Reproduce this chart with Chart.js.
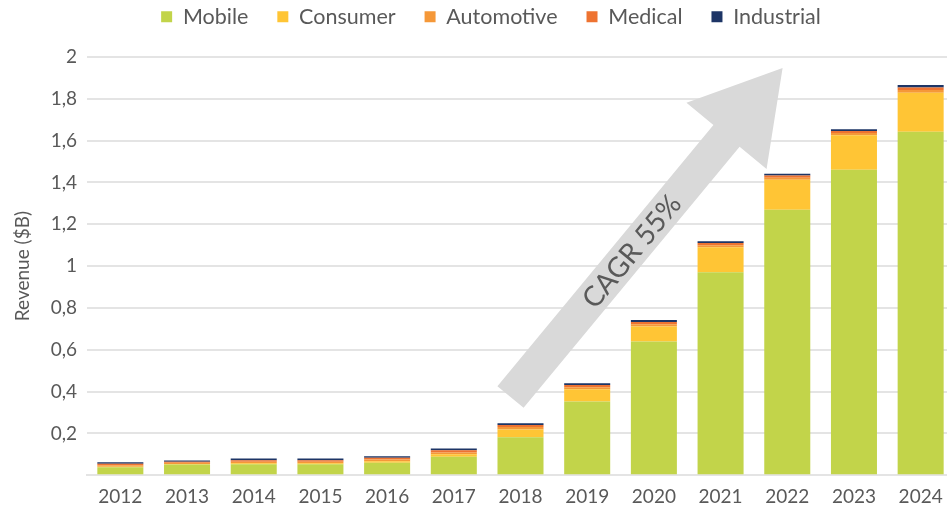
<!DOCTYPE html>
<html>
<head>
<meta charset="utf-8">
<title>Revenue by market</title>
<script src="https://cdn.jsdelivr.net/npm/chart.js@4/dist/chart.umd.min.js"></script>
<style>
    html, body { margin: 0; padding: 0; background: #ffffff; overflow: hidden; }
    /* a bit wider than the window: the last category runs off the right edge in the original */
    #wrap { width: 954px; height: 515px; }
</style>
</head>
<body>
<div id="wrap"><canvas id="revenueChart"></canvas></div>
<script>
// Chart data ($B)
const years = ['2012', '2013', '2014', '2015', '2016', '2017', '2018', '2019', '2020', '2021', '2022', '2023', '2024'];
const mobile = [0.038, 0.051, 0.052, 0.052, 0.059, 0.088, 0.182, 0.352, 0.639, 0.970, 1.270, 1.461, 1.642];
const consumer = [0.003, 0.003, 0.005, 0.005, 0.008, 0.012, 0.037, 0.059, 0.072, 0.120, 0.143, 0.165, 0.187];
const automotive = [0.007, 0.005, 0.007, 0.007, 0.008, 0.009, 0.011, 0.010, 0.011, 0.010, 0.010, 0.010, 0.013];
const medical = [0.007, 0.005, 0.008, 0.008, 0.008, 0.010, 0.010, 0.010, 0.011, 0.010, 0.010, 0.010, 0.012];
const industrial = [0.007, 0.006, 0.008, 0.008, 0.008, 0.009, 0.008, 0.009, 0.009, 0.009, 0.009, 0.009, 0.012];

// Growth arrow, given in axis units (category index, revenue)
const arrowFrom = { x: 5.85, y: 0.374 };
const arrowTo = { x: 9.93, y: 1.947 };
const arrowLabel = 'CAGR 55%';

const textColor = '#595959';
const fontFamily = 'Lato, "Open Sans", sans-serif';

// Draws the big grey CAGR arrow behind the bars
const cagrArrow = {
    id: 'cagrArrow',
    beforeDatasetsDraw(chart) {
        const ctx = chart.ctx;
        const xs = chart.scales.x;
        const ys = chart.scales.y;
        const x0 = xs.getPixelForValue(arrowFrom.x), y0 = ys.getPixelForValue(arrowFrom.y);
        const x1 = xs.getPixelForValue(arrowTo.x), y1 = ys.getPixelForValue(arrowTo.y);
        const len = Math.hypot(x1 - x0, y1 - y0);
        const angle = Math.atan2(y1 - y0, x1 - x0);
        const shaft = 17, head = 52, headLen = 88;

        ctx.save();
        ctx.translate(x0, y0);
        ctx.rotate(angle);
        ctx.fillStyle = '#d9d9d9';
        ctx.beginPath();
        ctx.moveTo(0, -shaft);
        ctx.lineTo(len - headLen, -shaft);
        ctx.lineTo(len - headLen, -head);
        ctx.lineTo(len, 0);
        ctx.lineTo(len - headLen, head);
        ctx.lineTo(len - headLen, shaft);
        ctx.lineTo(0, shaft);
        ctx.closePath();
        ctx.fill();

        ctx.fillStyle = textColor;
        ctx.font = '28px ' + fontFamily;
        ctx.textAlign = 'center';
        ctx.textBaseline = 'middle';
        ctx.fillText(arrowLabel, (len - headLen) / 2 + 20, 1);
        ctx.restore();
    }
};

// Legend sits higher and a little right of where Chart.js centres it
const legendPlacement = {
    id: 'legendPlacement',
    beforeUpdate(chart) {
        const legend = chart.legend;
        if (legend && !legend._fitPatched) {
            const fit = legend.fit;
            legend.fit = function () {
                fit.call(this);
                this.height = 57;
            };
            legend._fitPatched = true;
        }
    },
    afterLayout(chart) {
        const legend = chart.legend;
        if (!legend) return;
        legend.top = -23;
        legend.left += 14;
        legend.right += 14;
    }
};

function makeSet(label, data, color) {
    return {
        label: label,
        data: data,
        backgroundColor: color,
        borderWidth: 0,
        categoryPercentage: 1.0,
        barPercentage: 0.69
    };
}

function createRevenueChart() {
    const ctx = document.getElementById('revenueChart').getContext('2d');

    new Chart(ctx, {
        type: 'bar',
        data: {
            labels: years,
            datasets: [
                makeSet('Mobile', mobile, '#c2d44a'),
                makeSet('Consumer', consumer, '#ffc535'),
                makeSet('Automotive', automotive, '#f59838'),
                makeSet('Medical', medical, '#ee7331'),
                makeSet('Industrial', industrial, '#1d3566')
            ]
        },
        plugins: [cagrArrow, legendPlacement],
        options: {
            responsive: true,
            maintainAspectRatio: false,
            animation: false,
            layout: {
                padding: { top: 0, right: 0, bottom: 5, left: 0 }
            },
            plugins: {
                legend: {
                    display: true,
                    position: 'top',
                    labels: {
                        color: textColor,
                        font: { family: fontFamily, size: 21.5 },
                        boxWidth: 11,
                        boxHeight: 11,
                        padding: 29
                    }
                },
                tooltip: { enabled: false }
            },
            scales: {
                x: {
                    stacked: true,
                    grid: { display: false },
                    border: { display: true, color: '#e4e4e4', width: 2 },
                    ticks: {
                        color: textColor,
                        font: { family: fontFamily, size: 19 },
                        padding: 2,
                        maxRotation: 0
                    }
                },
                y: {
                    stacked: true,
                    min: 0,
                    max: 2,
                    afterFit(scale) { scale.width = 87; },
                    title: {
                        display: true,
                        text: 'Revenue ($B)',
                        color: textColor,
                        font: { family: fontFamily, size: 19 },
                        padding: { top: 11, bottom: 0 }
                    },
                    border: { display: false },
                    grid: { color: '#e4e4e4', lineWidth: 2, drawTicks: false },
                    ticks: {
                        stepSize: 0.2,
                        color: textColor,
                        font: { family: fontFamily, size: 19 },
                        padding: 10,
                        callback(value) {
                            if (value === 0) return '';
                            return String(Math.round(value * 10) / 10).replace('.', ',');
                        }
                    }
                }
            }
        }
    });
}

createRevenueChart();
</script>
</body>
</html>
